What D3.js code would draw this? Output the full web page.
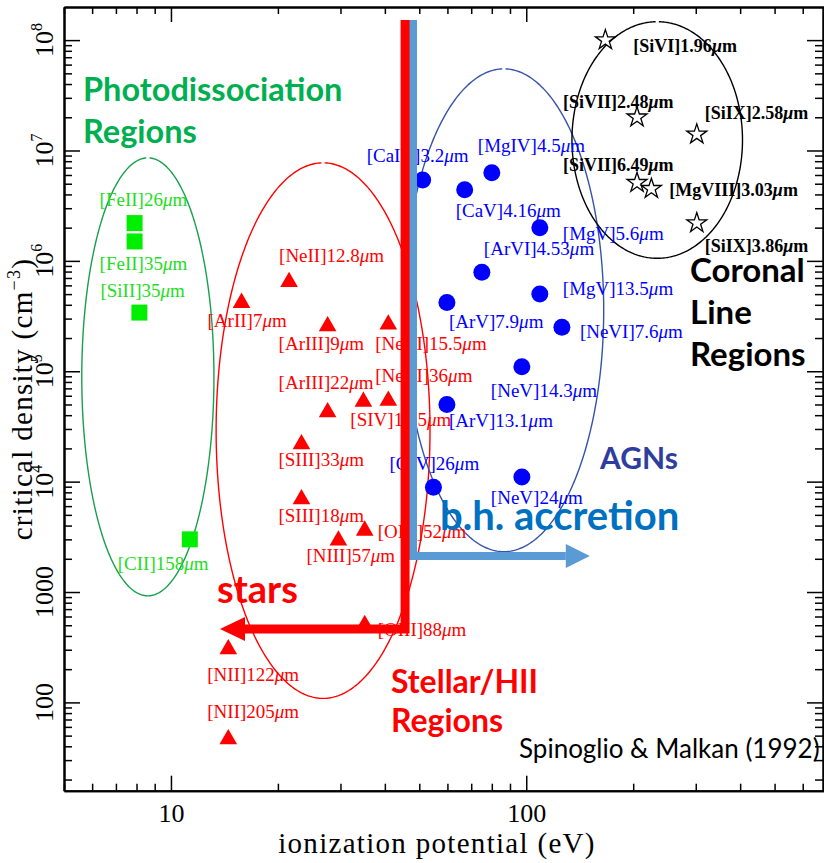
<!DOCTYPE html>
<html>
<head>
<meta charset="utf-8">
<script src="https://cdn.jsdelivr.net/npm/d3@7"></script>
<style>
  body { margin: 0; background: #fff; }
  svg { display: block; }
</style>
</head>
<body>
<script>
// Critical density versus ionization potential of infrared fine-structure lines

// Axis ranges
const xDomain = [5, 700];
const yDomain = [Math.pow(10, 1.2), Math.pow(10, 8.3)];

// Photodissociation-region lines
const pdrIons  = ["[FeII]", "[FeII]", "[SiII]", "[CII]"];
const pdrWaves = ["26", "35", "35", "158"];
const pdrIP    = [7.9, 7.9, 8.15, 11.3];
const pdrNcrit = [2.2e6, 1.5e6, 3.4e5, 3.0e3];

// Stellar / HII-region lines
const hiiIons  = ["[NeII]", "[ArII]", "[ArIII]", "[NeIII]", "[ArIII]", "[NeIII]", "[SIV]",
                  "[SIII]", "[SIII]", "[NIII]", "[OIII]", "[OIII]", "[NII]", "[NII]"];
const hiiWaves = ["12.8", "7", "9", "15.5", "22", "36", "10.5", "33", "18", "57", "52", "88", "122", "205"];
const hiiIP    = [21.5, 15.8, 27.6, 40.9, 27.6, 40.9, 34.8, 23.3, 23.3, 29.6, 35.1, 35.1, 14.5, 14.5];
const hiiNcrit = [6.8e5, 4.4e5, 2.7e5, 2.8e5, 4.5e4, 5.7e4, 5.6e4, 2.3e4, 7.3e3, 3.1e3, 3.8e3, 530, 320, 49];

// AGN (narrow-line region) lines
const agnIons  = ["[CaIV]", "[MgIV]", "[CaV]", "[MgV]", "[ArVI]", "[MgV]", "[ArV]", "[NeVI]",
                  "[NeV]", "[ArV]", "[OIV]", "[NeV]"];
const agnWaves = ["3.2", "4.5", "4.16", "5.6", "4.53", "13.5", "7.9", "7.6", "14.3", "13.1", "26", "24"];
const agnIP    = [51.1, 80.0, 67.1, 109.2, 75.0, 109.2, 59.8, 126, 97.2, 59.8, 54.8, 97.2];
const agnNcrit = [5.4e6, 6.3e6, 4.4e6, 2.0e6, 7.9e5, 5.0e5, 4.2e5, 2.5e5, 1.1e5, 5.0e4, 8.9e3, 1.1e4];

// Coronal lines
const corIons  = ["[SiVI]", "[SiVII]", "[SiIX]", "[SiVII]", "[MgVIII]", "[SiIX]"];
const corWaves = ["1.96", "2.48", "2.58", "6.49", "3.03", "3.86"];
const corIP    = [167, 205, 302, 205, 225, 302];
const corNcrit = [1.0e8, 2.0e7, 1.4e7, 5.1e6, 4.5e6, 2.2e6];

// Label placement relative to each marker (pixels: start x, baseline y)
const pdrLabelOffsets = [[-35, -17], [-35, 29], [-39, -16], [-72, 31]];
const hiiLabelOffsets = [[-10, -17], [-34, 27], [-49, 26], [-13, 28], [-49, -21], [-13, -16], [-13, 27],
                         [-23, 24], [-23, 25], [-32, 24], [13, 10], [13, 14], [-21, 34], [-21, -19]];
const agnLabelOffsets = [[-56, -18], [-14, -21], [-9, 27], [23, 12], [2, -17], [23, 1], [2, 26],
                         [18, 11], [-31, 30], [2, 23], [-44, -17], [-31, 27]];
const corLabelOffsets = [[28, 12], [-74, -9], [8, -15], [-74, -12], [18, 7], [8, 29]];

// Region outlines: centre in data units, half-axes in decades
const regionEllipses = [
  { cx: 8.61, cy: 8.9e4,  rx: 0.186, ry: 1.984, color: "#16a04c" },
  { cx: 26.8, cy: 2.9e4,  rx: 0.301, ry: 2.426, color: "#ff0000" },
  { cx: 86.5, cy: 3.57e5, rx: 0.281, ry: 2.187, color: "#3553a8" },
  { cx: 233.7, cy: 1.245e7, rx: 0.240, ry: 1.072, color: "#000000" }
];

// Schematic arrows (data units): vertical stem top, corner, horizontal tip
const starsArrow     = { x: 45.6, yTop: 1.52e8, yCorner: 462,  xTip: 13.74 };
const accretionArrow = { x: 48.0, yTop: 1.52e8, yCorner: 2120, xTip: 151 };

const W = 824, H = 863;
const x = d3.scaleLog().domain(xDomain).range([64, 826.5]);
const y = d3.scaleLog().domain(yDomain).range([790.7, 7]);

const svg = d3.select("body").append("svg").attr("width", W).attr("height", H);

const serif = "'Liberation Serif', 'Times New Roman', serif";
const sans = "Lato, 'Open Sans', sans-serif";

// ---- Region ellipses (open at the top like the original plot) ----
const ellLine = d3.line().x(d => d[0]).y(d => d[1]);
regionEllipses.forEach(e => {
  const gap = 1.6 / (e.rx * 355);
  const pts = d3.range(0, 361).map(i => {
    const t = Math.PI / 2 + gap + (2 * Math.PI - 2 * gap) * i / 360;
    const lx = Math.log10(e.cx) + e.rx * Math.cos(t);
    const ly = Math.log10(e.cy) + e.ry * Math.sin(t);
    return [x(Math.pow(10, lx)), y(Math.pow(10, ly))];
  });
  svg.append("path").attr("d", ellLine(pts))
    .attr("fill", "none").attr("stroke", e.color).attr("stroke-width", 1.4);
});

// Triangle centred on its bounding box
const triangleBox = {
  draw(ctx, size) {
    const h = Math.sqrt(size * Math.sqrt(3));
    const w = 2 * size / h;
    ctx.moveTo(0, -h / 2);
    ctx.lineTo(w / 2, h / 2);
    ctx.lineTo(-w / 2, h / 2);
    ctx.closePath();
  }
};

function drawGroup(ions, waves, ip, ncrit, offsets, symType, symSize, fill, stroke, labelColor, bold) {
  const g = svg.append("g");
  const idx = d3.range(ions.length);
  g.selectAll("path").data(idx).join("path")
    .attr("transform", i => `translate(${x(ip[i])},${y(ncrit[i])})`)
    .attr("d", d3.symbol().type(symType).size(symSize))
    .attr("fill", fill)
    .attr("stroke", stroke)
    .attr("stroke-width", stroke === "none" ? 0 : 1.3);
  const t = g.selectAll("text").data(idx).join("text")
    .attr("x", i => x(ip[i]) + offsets[i][0])
    .attr("y", i => y(ncrit[i]) + offsets[i][1])
    .attr("font-family", serif)
    .attr("font-size", bold ? 18 : 19)
    .attr("font-weight", bold ? "bold" : "normal")
    .attr("fill", labelColor);
  t.append("tspan").text(i => ions[i] + waves[i]);
  t.append("tspan").attr("font-style", "italic").text("\u03bc");
  t.append("tspan").text("m");
  return g;
}

drawGroup(pdrIons, pdrWaves, pdrIP, pdrNcrit, pdrLabelOffsets, d3.symbolSquare, 256, "#00ee00", "none", "#22dd22", false);
drawGroup(hiiIons, hiiWaves, hiiIP, hiiNcrit, hiiLabelOffsets, triangleBox, 135, "#ff0000", "none", "#ff0000", false);
drawGroup(agnIons, agnWaves, agnIP, agnNcrit, agnLabelOffsets, d3.symbolCircle, 227, "#0000ff", "none", "#0000ff", false);
drawGroup(corIons, corWaves, corIP, corNcrit, corLabelOffsets, d3.symbolStar, 124, "#ffffff", "#000000", "#000000", true);

// ---- Axes frame with inward ticks on all sides ----
const xMajor = [10, 100];
const xMinor = x.ticks().filter(v => !xMajor.includes(v));
const yMajor = d3.range(2, 9).map(p => Math.pow(10, p));
const yMinor = y.ticks().filter(v => !yMajor.some(m => Math.abs(m - v) / m < 1e-9));

const axisStyle = sel => {
  sel.selectAll(".domain").attr("stroke", "#000").attr("stroke-width", 2);
  sel.selectAll(".tick line").attr("stroke", "#000").attr("stroke-width", 1.5);
};

svg.append("g").attr("transform", "translate(0,790.7)")
  .call(d3.axisBottom(x).tickValues(xMinor).tickSizeInner(-7).tickSizeOuter(0).tickFormat(""))
  .call(axisStyle);
svg.append("g").attr("transform", "translate(0,790.7)")
  .call(d3.axisBottom(x).tickValues(xMajor).tickSizeInner(-15).tickSizeOuter(0).tickPadding(13)
    .tickFormat(d3.format("d")))
  .call(axisStyle)
  .call(g => g.selectAll(".tick text").attr("font-family", serif).attr("font-size", 26).attr("fill", "#000"));
svg.append("g").attr("transform", "translate(0,7)")
  .call(d3.axisTop(x).tickValues(xMinor).tickSizeInner(-7).tickSizeOuter(0).tickFormat(""))
  .call(axisStyle);
svg.append("g").attr("transform", "translate(0,7)")
  .call(d3.axisTop(x).tickValues(xMajor).tickSizeInner(-15).tickSizeOuter(0).tickFormat(""))
  .call(axisStyle);

svg.append("g").attr("transform", "translate(64,0)")
  .call(d3.axisLeft(y).tickValues(yMinor).tickSizeInner(-8).tickSizeOuter(0).tickFormat(""))
  .call(axisStyle);
svg.append("g").attr("transform", "translate(64,0)")
  .call(d3.axisLeft(y).tickValues(yMajor).tickSizeInner(-16).tickSizeOuter(0).tickFormat(""))
  .call(axisStyle);
svg.append("g").attr("transform", "translate(823,0)")
  .call(d3.axisRight(y).tickValues(yMinor).tickSizeInner(-8).tickSizeOuter(0).tickFormat(""))
  .call(axisStyle);
svg.append("g").attr("transform", "translate(823,0)")
  .call(d3.axisRight(y).tickValues(yMajor).tickSizeInner(-16).tickSizeOuter(0).tickFormat(""))
  .call(axisStyle);

// Rotated y tick labels: 100, 1000, then powers of ten
yMajor.forEach(v => {
  const p = Math.round(Math.log10(v));
  const t = svg.append("text")
    .attr("transform", `translate(53,${y(v)}) rotate(-90)`)
    .attr("text-anchor", "middle")
    .attr("font-family", serif).attr("font-size", 26).attr("fill", "#000");
  if (p <= 3) {
    t.text(String(v));
  } else {
    t.append("tspan").text("10");
    t.append("tspan").attr("font-size", 16).attr("dy", -11).text(String(p));
  }
});

// Axis titles
svg.append("text")
  .attr("x", 437).attr("y", 853)
  .attr("text-anchor", "middle")
  .attr("font-family", serif).attr("font-size", 29).attr("letter-spacing", 1.3)
  .attr("fill", "#000")
  .text("ionization potential (eV)");

const yTitle = svg.append("text")
  .attr("transform", "translate(32,399) rotate(-90)")
  .attr("text-anchor", "middle")
  .attr("font-family", serif).attr("font-size", 29).attr("letter-spacing", 1.3)
  .attr("fill", "#000");
yTitle.append("tspan").text("critical density (cm");
yTitle.append("tspan").attr("font-size", 18).attr("dy", -12).text("\u22123");
yTitle.append("tspan").attr("dy", 12).text(")");

// ---- Schematic arrows ----
function drawArrow(a, color, width, headLen, headHalf) {
  const xs = x(a.x), yt = y(a.yTop), yc = y(a.yCorner), xt = x(a.xTip);
  const dir = Math.sign(xt - xs);
  svg.append("path")
    .attr("d", `M${xs},${yt} L${xs},${yc} L${xt - dir * headLen},${yc}`)
    .attr("fill", "none").attr("stroke", color).attr("stroke-width", width)
    .attr("stroke-linejoin", "miter").attr("stroke-linecap", "butt");
  svg.append("path")
    .attr("d", `M${xt},${yc} L${xt - dir * headLen},${yc - headHalf} L${xt - dir * headLen},${yc + headHalf} Z`)
    .attr("fill", color);
}
drawArrow(accretionArrow, "#5b9bd5", 8, 24, 12);
drawArrow(starsArrow, "#ff0000", 9, 25, 12);

// ---- Region names ----
function block(lines, x0, y0, lh, size, color, weight) {
  lines.forEach((s, i) => {
    svg.append("text").attr("x", x0).attr("y", y0 + i * lh)
      .attr("font-family", sans).attr("font-size", size).attr("font-weight", weight)
      .attr("fill", color).text(s);
  });
}
block(["Photodissociation", "Regions"], 83, 101, 42, 32.5, "#00b050", 700);
block(["Coronal", "Line", "Regions"], 690, 282, 42, 33, "#000000", 700);
block(["AGNs"], 600, 469, 0, 30, "#2f3e9e", 700);
block(["b.h. accretion"], 440, 530, 0, 40, "#0070c0", 700);
block(["stars"], 217, 603, 0, 38, "#ff0000", 700);
block(["Stellar/HII", "Regions"], 391, 693, 39, 32, "#ff0000", 700);
block(["Spinoglio & Malkan (1992)"], 519, 758, 0, 26, "#000000", 400);
</script>
</body>
</html>
